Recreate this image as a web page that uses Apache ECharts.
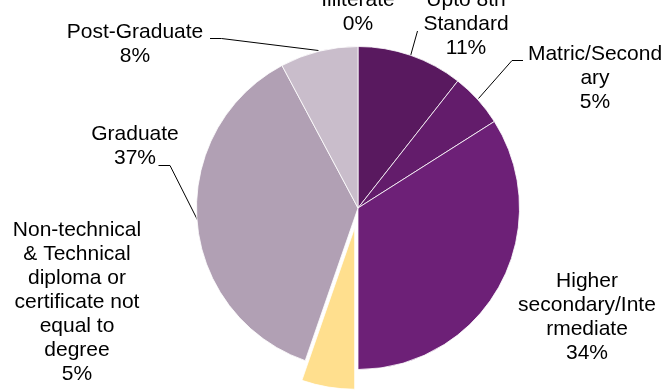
<!DOCTYPE html>
<html>
<head>
<meta charset="utf-8">
<script src="https://cdn.jsdelivr.net/npm/echarts@6/dist/echarts.min.js"></script>
<style>
  html, body { margin: 0; padding: 0; background: #ffffff; }
  #chart { width: 672px; height: 390px; }
</style>
</head>
<body>
<div id="chart"></div>
<script>
// Education level shares (percent of respondents)
const categories = [
  'Illiterate',
  'Upto 8th\nStandard',
  'Matric/Second\nary',
  'Higher\nsecondary/Inte\nrmediate',
  'Non-technical\n& Technical\ndiploma or\ncertificate not\nequal to\ndegree',
  'Graduate',
  'Post-Graduate'
];
const shares = [0, 10.6, 5.4, 34.0, 5.3, 36.9, 7.8];
const explodedIndex = 4;

// Slice colours
const sliceColors = ['#8a5a92', '#59195f', '#631c6b', '#6d2077', '#ffdf8e', '#b1a0b4', '#c9bdcb'];

// Pie geometry
const pieCenter = [358, 208];
const pieRadius = 161.5;
const explodeDistance = 20;

// Label block centres and leader lines
const labelSpots = [
  { x: 358, y: 12 },
  { x: 466, y: 24, line: [[417.5, 31], [410.7, 55.3]] },
  { x: 595, y: 78, line: [[523, 60.5], [512, 60.5], [478.5, 98.5]] },
  { x: 587, y: 317 },
  { x: 77, y: 302 },
  { x: 135, y: 146, line: [[158.5, 165.5], [170, 165.5], [197.5, 220]] },
  { x: 135, y: 44, line: [[210, 38.5], [221.5, 38.5], [318.5, 50.5]] }
];

// The pulled-out slice is drawn by a second pie whose centre is shifted
// along the slice's mid-angle (measured clockwise from 12 o'clock).
const total = shares.reduce((a, b) => a + b, 0);
const before = shares.slice(0, explodedIndex).reduce((a, b) => a + b, 0);
const midAngle = (before + shares[explodedIndex] / 2) / total * 2 * Math.PI;
const explodedCenter = [
  pieCenter[0] + Math.sin(midAngle) * explodeDistance,
  pieCenter[1] - Math.cos(midAngle) * explodeDistance
];

const chart = echarts.init(document.getElementById('chart'), null, { renderer: 'canvas' });

const mainData = categories.map((name, i) => ({
  name: name,
  value: shares[i],
  itemStyle: i === explodedIndex
    ? { color: 'rgba(0,0,0,0)', borderWidth: 0 }
    : { color: sliceColors[i] },
  labelLine: { show: !!labelSpots[i].line }
}));

const explodedData = categories.map((name, i) => ({
  name: name,
  value: shares[i],
  itemStyle: i === explodedIndex
    ? { color: sliceColors[i] }
    : { color: 'rgba(0,0,0,0)', borderWidth: 0 }
}));

const fontFamily = '"Liberation Sans", Arial, sans-serif';

chart.setOption({
  animation: false,
  series: [{
    type: 'pie',
    center: explodedCenter,
    radius: pieRadius,
    startAngle: 90,
    clockwise: true,
    silent: true,
    itemStyle: { borderColor: '#ffffff', borderWidth: 0.8 },
    label: { show: false },
    labelLine: { show: false },
    data: explodedData
  }, {
    type: 'pie',
    center: pieCenter,
    radius: pieRadius,
    startAngle: 90,
    clockwise: true,
    avoidLabelOverlap: false,
    emphasis: { disabled: true },
    itemStyle: { borderColor: '#ffffff', borderWidth: 0.8 },
    label: {
      show: true,
      position: 'outside',
      color: '#000000',
      fontFamily: fontFamily,
      fontSize: 21,
      lineHeight: 24,
      align: 'center',
      formatter: p => p.name + '\n' + Math.round(p.value) + '%'
    },
    labelLine: {
      show: true,
      lineStyle: { color: '#000000', width: 1 }
    },
    labelLayout: function (params) {
      const spot = labelSpots[params.dataIndex];
      const out = { x: spot.x, y: spot.y, align: 'center', verticalAlign: 'middle' };
      if (spot.line) out.labelLinePoints = spot.line;
      return out;
    },
    data: mainData
  }]
});
</script>
</body>
</html>
